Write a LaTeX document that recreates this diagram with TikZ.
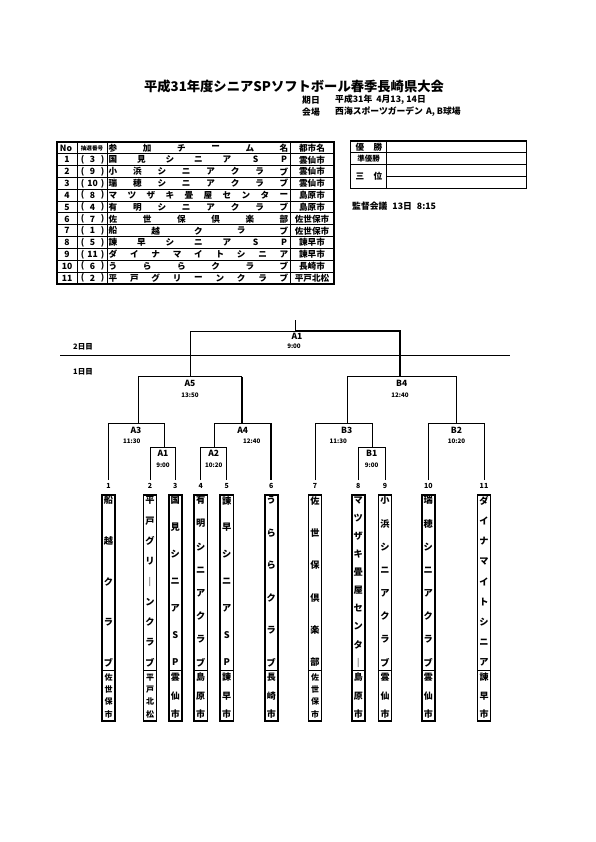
\documentclass[tikz,border=0pt]{standalone}
\usepackage{fontspec}
\setmainfont{Noto Sans CJK JP}
\tikzset{
  tt/.style={inner sep=0pt, font=\bfseries\fontsize{8.6}{9}\selectfont},
  ttsm/.style={inner sep=0pt, font=\bfseries\fontsize{5.6}{6}\selectfont},
  vc/.style={inner sep=0pt, font=\bfseries\fontsize{9.2}{9}\selectfont},
  num/.style={inner sep=0pt, font=\bfseries\fontsize{7}{7}\selectfont},
  lab/.style={inner sep=0pt, font=\bfseries\fontsize{8.5}{9}\selectfont},
  tim/.style={inner sep=0pt, font=\bfseries\fontsize{6.2}{6}\selectfont},
  br/.style={line width=0.9pt},
  brk/.style={line width=1.8pt},
  tbx/.style={line width=1.6pt},
  dv/.style={line width=0.8pt},
  tline/.style={line width=1pt},
  touter/.style={line width=1.4pt}
}
% table row: index, No, draw number, N chars, chars, city
\newcommand\trow[6]{%
  \pgfmathsetmacro\yy{142+(#1+0.5)*11.83}
  \node[tt] (rn#1) at (67,\yy) {#2};
  \node[tt] (rl#1) at (82.5,\yy) {(};
  \node[tt] (rd#1) at (92.5,\yy) {#3};
  \node[tt] (rr#1) at (102.5,\yy) {)};
  \foreach \c [count=\k from 0] in {#5} {\node[tt] (rc#1-\k) at ({113+171*\k/(#4-1)},\yy) {\c};}
  \node[tt] (rcity#1) at (312,\yy) {#6};
}
% team box: number, x, N, chars, Ncity, citylist, city font size
\newcommand\tbox[7]{%
  \node[num] (n#1) at (#2,486) {#1};
  \draw[tbx] ({#2-6.6},494.7) rectangle ({#2+6.6},720.7);
  \draw[dv] ({#2-6.6},670.5) -- ({#2+6.6},670.5);
  \foreach \c [count=\k from 0] in {#4} {\node[vc] (b#1-\k) at (#2,{500.5+162*\k/(#3-1)}) {\c};}
  \foreach \c [count=\k from 0] in {#6} {\node[inner sep=0pt, font=\bfseries\fontsize{#7}{#7}\selectfont] (bc#1-\k) at (#2,{677.5+36.5*\k/(#5-1)}) {\c};}
}
\begin{document}
\begin{tikzpicture}[x=1pt,y=-1pt]
\useasboundingbox[fill=white] (0,0) rectangle (595,842);

% title
\node[inner sep=0pt, font=\bfseries\fontsize{13.3}{14}\selectfont] (title) at (294,86) {平成31年度シニアSPソフトボール春季長崎県大会};
\node[inner sep=0pt, anchor=west, font=\bfseries\fontsize{8.8}{9}\selectfont] (kijitsu) at (302,100) {期日};
\node[inner sep=0pt, anchor=west, font=\bfseries\fontsize{8.8}{9}\selectfont] (date) at (335,100) {平成31年\hspace{4pt}4月13,\hspace{2pt}14日};
\node[inner sep=0pt, anchor=west, font=\bfseries\fontsize{8.8}{9}\selectfont] (kaijo) at (302,112) {会場};
\node[inner sep=0pt, anchor=west, font=\bfseries\fontsize{8.8}{9}\selectfont] (venue) at (335,112) {西海スポーツガーデン\hspace{3pt}A,\hspace{2pt}B球場};

% left table
\draw[touter] (57,142) rectangle (334,284);
\foreach \i in {1,...,11} \draw[tline] (57,{142+\i*11.83}) -- (334,{142+\i*11.83});
\foreach \x in {77,107,290} \draw[tline] (\x,142) -- (\x,284);
\node[tt] (hno) at (66,147.9) {No};
\node[ttsm] (hdraw) at (92,147.9) {抽選番号};
\foreach \c [count=\k from 0] in {参,加,チ,ー,ム,名} {\node[tt] (h-\k) at ({113+171*\k/5},147.9) {\c};}
\node[tt] (hcity) at (312,147.9) {都市名};
\trow{1}{1}{3}{7}{国,見,シ,ニ,ア,S,P}{雲仙市}
\trow{2}{2}{9}{8}{小,浜,シ,ニ,ア,ク,ラ,ブ}{雲仙市}
\trow{3}{3}{10}{8}{瑞,穂,シ,ニ,ア,ク,ラ,ブ}{雲仙市}
\trow{4}{4}{8}{10}{マ,ツ,ザ,キ,畳,屋,セ,ン,タ,ー}{島原市}
\trow{5}{5}{4}{8}{有,明,シ,ニ,ア,ク,ラ,ブ}{島原市}
\trow{6}{6}{7}{6}{佐,世,保,倶,楽,部}{佐世保市}
\trow{7}{7}{1}{5}{船,越,ク,ラ,ブ}{佐世保市}
\trow{8}{8}{5}{7}{諫,早,シ,ニ,ア,S,P}{諫早市}
\trow{9}{9}{11}{9}{ダ,イ,ナ,マ,イ,ト,シ,ニ,ア}{諫早市}
\trow{10}{10}{6}{6}{う,ら,ら,ク,ラ,ブ}{長崎市}
\trow{11}{11}{2}{9}{平,戸,グ,リ,ー,ン,ク,ラ,ブ}{平戸北松}

% right table
\draw[touter] (350.7,141) rectangle (526.7,188.3);
\draw[tline] (386.7,141) -- (386.7,188.3);
\draw[tline] (350.7,152.8) -- (526.7,152.8);
\draw[tline] (350.7,164.6) -- (526.7,164.6);
\draw[tline] (386.7,176.4) -- (526.7,176.4);
\node[tt] (yu1) at (360,147) {優};
\node[tt] (yu2) at (378,147) {勝};
\node[inner sep=0pt, font=\bfseries\fontsize{7.5}{8}\selectfont] (jun) at (368.5,158.8) {準優勝};
\node[tt] (san1) at (360,176.4) {三};
\node[tt] (san2) at (378,176.4) {位};
\node[inner sep=0pt, anchor=west, font=\bfseries\fontsize{8.8}{9}\selectfont] (kantoku) at (352,206) {監督会議\hspace{5pt}13日\hspace{5pt}8:15};

% day labels and line
\node[inner sep=0pt, font=\bfseries\fontsize{7.5}{8}\selectfont] (day2) at (83,346.5) {2日目};
\node[inner sep=0pt, font=\bfseries\fontsize{7.5}{8}\selectfont] (day1) at (83,372) {1日目};
\draw[line width=0.8pt] (60,355) -- (510,355);

% bracket
\draw[br] (295.7,320) -- (295.7,331);
\draw[br] (190.7,376.7) -- (190.7,331) -- (295.7,331);
\draw[brk] (295.7,331) -- (400,331) -- (400,376.7);
\node[lab] (lA1f) at (297,336.5) {A1};
\node[tim] (tA1f) at (294,346.5) {9:00};
% A side
\draw[br] (138.3,423.3) -- (138.3,376.7) -- (241.7,376.7);
\draw[brk] (241.7,376.7) -- (241.7,423.3);
\node[lab] (lA5) at (190,383.5) {A5};
\node[tim] (tA5) at (190,395.5) {13:50};
\draw[br] (108.5,480) -- (108.5,423.3) -- (164,423.3) -- (164,447.3);
\node[lab] (lA3) at (136,430) {A3};
\node[tim] (tA3) at (131.7,441.7) {11:30};
\draw[br] (150,480) -- (150,447.3) -- (175.3,447.3) -- (175.3,480);
\node[lab] (lA1) at (163,453) {A1};
\node[tim] (tA1) at (163,465) {9:00};
\draw[br] (214,447.3) -- (214,423.3) -- (271.3,423.3);
\draw[brk] (271.3,423.3) -- (271.3,480);
\node[lab] (lA4) at (242.7,430) {A4};
\node[tim] (tA4) at (251.7,441.7) {12:40};
\draw[br] (200.7,480) -- (200.7,447.3) -- (226.7,447.3) -- (226.7,480);
\node[lab] (lA2) at (213.7,453) {A2};
\node[tim] (tA2) at (213.7,465) {10:20};
% B side
\draw[br] (347.7,423.3) -- (347.7,376.7) -- (456.5,376.7) -- (456.5,423.3);
\node[lab] (lB4) at (401.7,383.5) {B4};
\node[tim] (tB4) at (400,395.5) {12:40};
\draw[br] (315,480) -- (315,423.3) -- (372,423.3) -- (372,447.3);
\node[lab] (lB3) at (346.7,430) {B3};
\node[tim] (tB3) at (338.3,441.7) {11:30};
\draw[br] (358.3,480) -- (358.3,447.3) -- (385,447.3) -- (385,480);
\node[lab] (lB1) at (371.7,453) {B1};
\node[tim] (tB1) at (371.7,465) {9:00};
\draw[br] (428.3,480) -- (428.3,423.3) -- (484,423.3) -- (484,480);
\node[lab] (lB2) at (456.5,430) {B2};
\node[tim] (tB2) at (456.5,441.7) {10:20};

% team boxes
\tbox{1}{108.5}{5}{船,越,ク,ラ,ブ}{4}{佐,世,保,市}{8}
\tbox{2}{150}{9}{平,戸,グ,リ,｜,ン,ク,ラ,ブ}{4}{平,戸,北,松}{8}
\tbox{3}{175.3}{7}{国,見,シ,ニ,ア,S,P}{3}{雲,仙,市}{9}
\tbox{4}{200.7}{8}{有,明,シ,ニ,ア,ク,ラ,ブ}{3}{島,原,市}{9}
\tbox{5}{226.7}{7}{諫,早,シ,ニ,ア,S,P}{3}{諫,早,市}{9}
\tbox{6}{271.3}{6}{う,ら,ら,ク,ラ,ブ}{3}{長,崎,市}{9}
\tbox{7}{315}{6}{佐,世,保,倶,楽,部}{4}{佐,世,保,市}{8}
\tbox{8}{358.3}{10}{マ,ツ,ザ,キ,畳,屋,セ,ン,タ,｜}{3}{島,原,市}{9}
\tbox{9}{385}{8}{小,浜,シ,ニ,ア,ク,ラ,ブ}{3}{雲,仙,市}{9}
\tbox{10}{428.3}{8}{瑞,穂,シ,ニ,ア,ク,ラ,ブ}{3}{雲,仙,市}{9}
\tbox{11}{484}{9}{ダ,イ,ナ,マ,イ,ト,シ,ニ,ア}{3}{諫,早,市}{9}
\end{tikzpicture}
\end{document}
